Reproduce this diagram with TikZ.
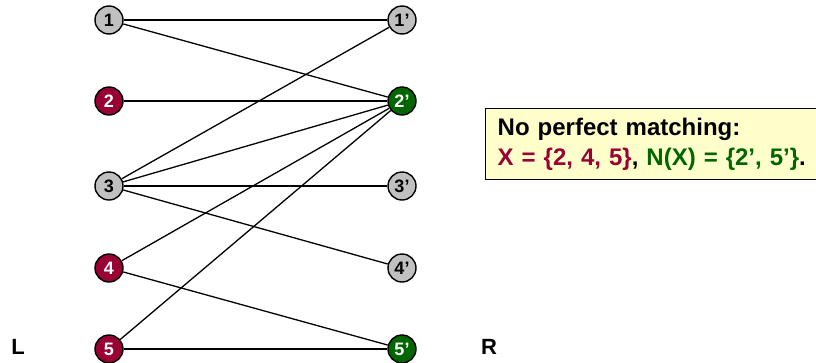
\documentclass[tikz,border=0pt]{standalone}
\usepackage{fontspec}
\setmainfont{Liberation Sans}
\usepackage{tikz}
\usetikzlibrary{positioning}
\definecolor{setred}{RGB}{153,0,51}
\definecolor{nbgreen}{RGB}{0,102,0}
\definecolor{notegold}{RGB}{255,255,204}
\definecolor{vgray}{RGB}{192,192,192}

\begin{document}
\begin{tikzpicture}[
  x=1pt, y=1pt,
  font=\bfseries,
  vert/.style={circle, draw, line width=1.4pt, minimum size=28pt, inner sep=0pt,
               fill=vgray, font=\fontsize{18}{18}\selectfont\bfseries},
  redv/.style={vert, fill=setred, text=white},
  grnv/.style={vert, fill=nbgreen, text=white},
  edge/.style={line width=1.3pt},
  side/.style={font=\fontsize{22}{22}\selectfont\bfseries},
  note/.style={draw, line width=1.4pt, fill=notegold, anchor=north west,
               minimum height=71pt, text width=340pt, inner xsep=12pt,
               align=left, font=\fontsize{24}{30}\selectfont\bfseries}
]
\useasboundingbox (0,0) rectangle (816,-362);
% left side
\node[vert] (l1) at (109,-20) {1};
\node[redv] (l2) at (109,-101) {2};
\node[vert] (l3) at (109,-186) {3};
\node[redv] (l4) at (109,-268) {4};
\node[redv] (l5) at (109,-349) {5};
% right side
\node[vert] (r1) at (402,-20) {1’};
\node[grnv] (r2) at (402,-101) {2’};
\node[vert] (r3) at (402,-186) {3’};
\node[vert] (r4) at (402,-268) {4’};
\node[grnv] (r5) at (402,-349) {5’};
\node[side] (lbl) at (18,-347) {L};
\node[side] (lbr) at (489,-347) {R};
\draw[edge] (l1) -- (r1);
\draw[edge] (l1) -- (r2);
\draw[edge] (l2) -- (r2);
\draw[edge] (l3) -- (r1);
\draw[edge] (l3) -- (r2);
\draw[edge] (l3) -- (r3);
\draw[edge] (l3) -- (r4);
\draw[edge] (l4) -- (r2);
\draw[edge] (l4) -- (r5);
\draw[edge] (l5) -- (r2);
\draw[edge] (l5) -- (r5);
% note box
\node[note] (nb) at (485,-108) {No perfect matching:\\
\textcolor{setred}{X = \{2, 4, 5\}}, \textcolor{nbgreen}{N(X) = \{2’, 5’\}}.};
\end{tikzpicture}
\end{document}
